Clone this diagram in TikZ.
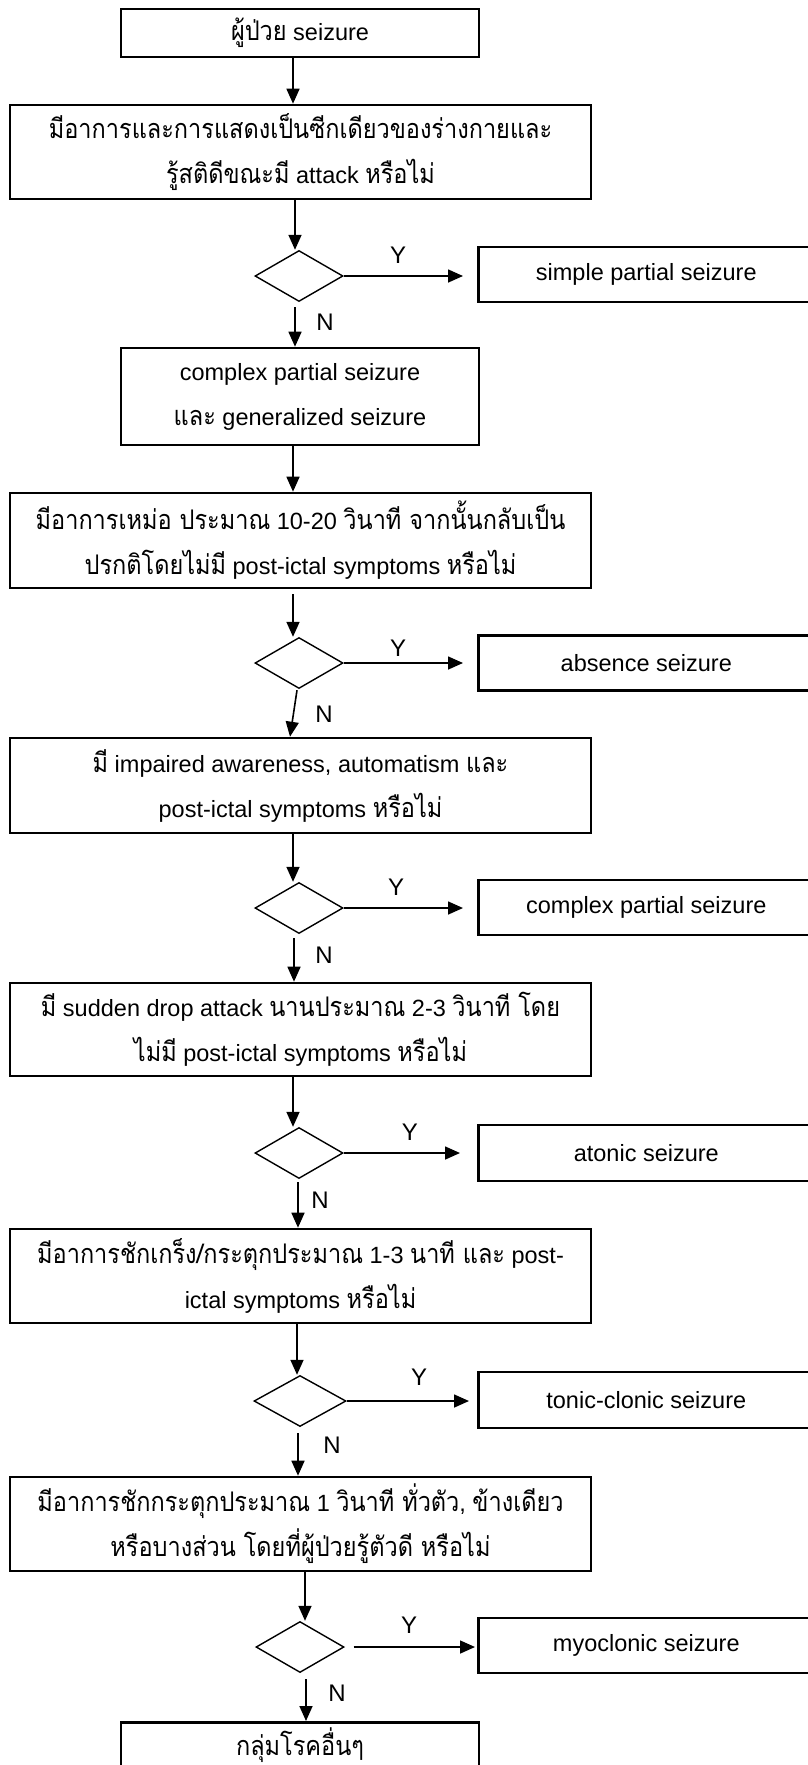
\documentclass[tikz,border=0pt]{standalone}
\usepackage{fontspec}
\setmainfont{Liberation Sans}
\newfontfamily\thaifont[Script=Thai,Scale=1.15,FakeStretch=0.87]{Loma}
\newcommand\T[1]{{\thaifont #1}}
\usetikzlibrary{shapes.geometric,arrows.meta}
\begin{document}
\begin{tikzpicture}[x=1pt,y=-1pt,
  box/.style={draw, line width=2.6pt, inner sep=0pt, align=center,
    font=\fontsize{23.5pt}{45pt}\selectfont},
  dia/.style={draw, diamond, line width=1.4pt, minimum width=88pt,
    minimum height=51pt, inner sep=0pt},
  arr/.style={line width=1.6pt, -{Triangle[length=15pt,width=13pt]}},
  lbl/.style={font=\fontsize{24pt}{28pt}\selectfont, inner sep=0pt}]
\useasboundingbox (0,0) rectangle (807,1765);

% main boxes
\node[box, minimum width=358pt, minimum height=48pt] (b1) at (300,33) {\T{ผู้ป่วย} seizure};
\node[box, minimum width=581pt, minimum height=94pt] (b2) at (300.5,152)
  {\T{มีอาการและการแสดงเป็นซีกเดียวของร่างกายและ}\\\T{รู้สติดีขณะมี} attack \T{หรือไม่}};
\node[box, minimum width=358pt, minimum height=97pt] (b3) at (300,396.5)
  {complex partial seizure\\\T{และ} generalized seizure};
\node[box, minimum width=581pt, minimum height=95pt] (b4) at (300.5,540.5)
  {\T{มีอาการเหม่อ ประมาณ} 10-20 \T{วินาที จากนั้นกลับเป็น}\\\T{ปรกติโดยไม่มี} post-ictal symptoms \T{หรือไม่}};
\node[box, minimum width=581pt, minimum height=95pt] (b5) at (300.5,785.5)
  {\T{มี} impaired awareness, automatism \T{และ}\\post-ictal symptoms \T{หรือไม่}};
\node[box, minimum width=581pt, minimum height=93pt] (b6) at (300.5,1029.5)
  {\T{มี} sudden drop attack \T{นานประมาณ} 2-3 \T{วินาที โดย}\\\T{ไม่มี} post-ictal symptoms \T{หรือไม่}};
\node[box, minimum width=581pt, minimum height=94pt] (b7) at (300.5,1276)
  {\T{มีอาการชักเกร็ง/กระตุกประมาณ} 1-3 \T{นาที และ} post-\\ictal symptoms \T{หรือไม่}};
\node[box, minimum width=581pt, minimum height=94pt] (b8) at (300.5,1524)
  {\T{มีอาการชักกระตุกประมาณ} 1 \T{วินาที ทั่วตัว}, \T{ข้างเดียว}\\\T{หรือบางส่วน โดยที่ผู้ป่วยรู้ตัวดี หรือไม่}};
\node[box, minimum width=358pt, minimum height=60pt, text height=17pt, text depth=11pt,
  anchor=north] (b9) at (300,1721) {\T{กลุ่มโรคอื่นๆ}};

% decisions
\node[dia] (d1) at (299,276) {};
\node[dia] (d2) at (299,663) {};
\node[dia] (d3) at (299,908) {};
\node[dia] (d4) at (299,1153) {};
\node[dia, minimum width=92pt] (d5) at (300,1401) {};
\node[dia] (d6) at (300,1647) {};

% outcome boxes
\node[box, minimum width=336pt, minimum height=55pt, anchor=west] (y1) at (477,274.5) {simple partial seizure};
\node[box, minimum width=336pt, minimum height=55pt, anchor=west] (y2) at (477,663) {absence seizure};
\node[box, minimum width=336pt, minimum height=55pt, anchor=west] (y3) at (477,907.5) {complex partial seizure};
\node[box, minimum width=336pt, minimum height=56pt, anchor=west] (y4) at (477,1153) {atonic seizure};
\node[box, minimum width=336pt, minimum height=56pt, anchor=west] (y5) at (477,1400) {tonic-clonic seizure};
\node[box, minimum width=336pt, minimum height=55pt, anchor=west] (y6) at (477,1645.5) {myoclonic seizure};

% vertical connectors
\draw[arr] ([xshift=-7pt]b1.south) -- ([xshift=-7pt]b1.south |- b2.north);
\draw[arr] ([xshift=-4pt]d1.north |- b2.south) -- ([xshift=-4pt]d1.north);
\draw[arr] ([xshift=-4pt,yshift=-5pt]d1.south) -- ([xshift=-4pt]d1.south |- b3.north);
\draw[arr] ([xshift=-7pt]b3.south) -- ([xshift=-7pt]b3.south |- b4.north);
\draw[arr] ([xshift=-6pt,yshift=-5pt]d2.north |- b4.south) -- ([xshift=-6pt]d2.north);
\draw[arr] ([xshift=-2pt,yshift=-1pt]d2.south) -- ([xshift=-9pt]d2.south |- b5.north);
\draw[arr] ([xshift=-6pt]d3.north |- b5.south) -- ([xshift=-6pt]d3.north);
\draw[arr] ([xshift=-5pt,yshift=-4pt]d3.south) -- ([xshift=-5pt]d3.south |- b6.north);
\draw[arr] ([xshift=-6pt]d4.north |- b6.south) -- ([xshift=-6pt]d4.north);
\draw[arr] ([xshift=-1pt,yshift=-3pt]d4.south) -- ([xshift=-1pt]d4.south |- b7.north);
\draw[arr] ([xshift=-3pt]d5.north |- b7.south) -- ([xshift=-3pt]d5.north);
\draw[arr] ([xshift=-2pt,yshift=-6pt]d5.south) -- ([xshift=-2pt]d5.south |- b8.north);
\draw[arr] ([xshift=5pt]d6.north |- b8.south) -- ([xshift=5pt]d6.north);
\draw[arr] ([xshift=6pt,yshift=-6pt]d6.south) -- ([xshift=6pt]d6.south |- b9.north);

% yes connectors
\draw[arr] (d1.east) -- ([xshift=-14pt]y1.west |- d1.east);
\draw[arr] (d2.east) -- ([xshift=-14pt]y2.west |- d2.east);
\draw[arr] (d3.east) -- ([xshift=-14pt]y3.west |- d3.east);
\draw[arr] (d4.east) -- ([xshift=-17pt]y4.west |- d4.east);
\draw[arr] (d5.east) -- ([xshift=-8pt]y5.west |- d5.east);
\draw[arr] ([xshift=9pt]d6.east) -- ([xshift=-2pt]y6.west |- d6.east);

% labels
\node[lbl] (ly1) at (398,255) {Y};
\node[lbl] (ly2) at (398,648) {Y};
\node[lbl] (ly3) at (396,887) {Y};
\node[lbl] (ly4) at (410,1132) {Y};
\node[lbl] (ly5) at (419,1377) {Y};
\node[lbl] (ly6) at (409,1625) {Y};
\node[lbl] (ln1) at (325,322) {N};
\node[lbl] (ln2) at (324,714) {N};
\node[lbl] (ln3) at (324,955) {N};
\node[lbl] (ln4) at (320,1200) {N};
\node[lbl] (ln5) at (332,1445) {N};
\node[lbl] (ln6) at (337,1693) {N};
\end{tikzpicture}
\end{document}
